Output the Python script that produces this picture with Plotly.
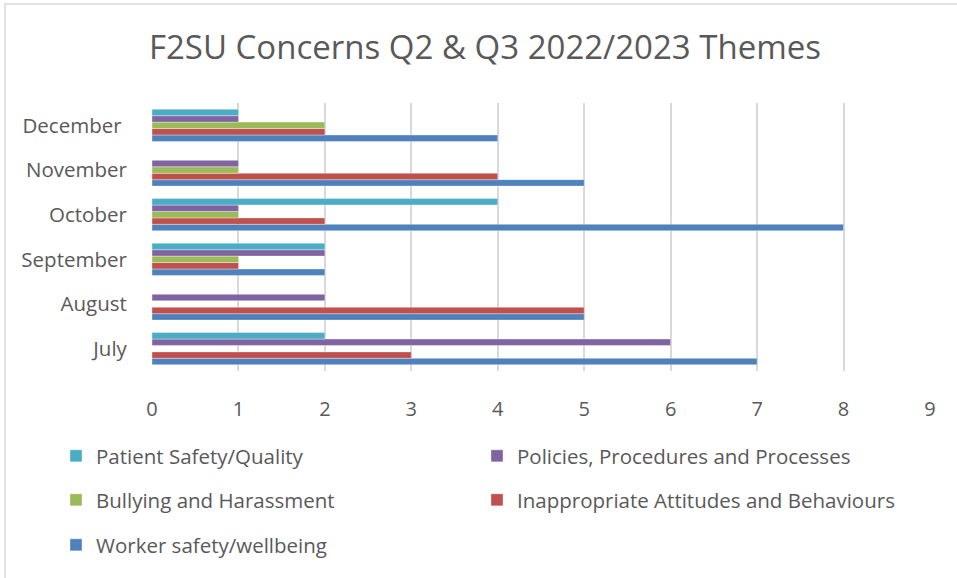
import plotly.graph_objects as go

months = ["July", "August", "September", "October", "November", "December "]
series_names = [
    "Worker safety/wellbeing",
    "Inappropriate Attitudes and Behaviours",
    "Bullying and Harassment",
    "Policies, Procedures and Processes",
    "Patient Safety/Quality",
]
worker = [7, 5, 2, 8, 5, 4]
inappropriate = [3, 5, 1, 2, 4, 2]
bullying = [0, 0, 1, 1, 1, 2]
policies = [6, 2, 2, 1, 1, 1]
patient = [2, 0, 2, 4, 0, 1]
x_ticks = [0, 1, 2, 3, 4, 5, 6, 7, 8, 9]

colors = ["#4F81BD", "#C0504D", "#9BBB59", "#8064A2", "#4BACC6"]
values = [worker, inappropriate, bullying, policies, patient]
legend_ids = ["legend3", "legend2", "legend2", "legend", "legend"]

W, H = 957, 578
L, R, T, B = 152, 27, 103, 207
PW, PH = W - L - R, H - T - B
FONT = "Open Sans"
TXT = "#595959"

fig = go.Figure()
for name, vals, col, lg in zip(series_names, values, colors, legend_ids):
    fig.add_trace(go.Bar(
        y=months, x=vals, name=name, orientation="h",
        marker=dict(color=col, line=dict(color="rgba(255,255,255,0.6)", width=0.6)),
        legend=lg,
    ))

def leg(ypx):
    return dict(
        orientation="h", xref="paper", yref="paper",
        x=(56 - L) / PW, xanchor="left", y=(H - B - ypx) / PH, yanchor="middle",
        entrywidth=376, entrywidthmode="pixels", traceorder="reversed",
        font=dict(family=FONT, size=20.5, color=TXT),
        bgcolor="rgba(0,0,0,0)",
    )

fig.update_layout(
    width=W, height=H,
    paper_bgcolor="white", plot_bgcolor="white",
    margin=dict(l=L, r=R, t=T, b=B),
    barmode="group", bargap=0.28, bargroupgap=0,
    title=dict(text="F2SU Concerns Q2 & Q3 2022/2023 Themes",
               x=485 / W, xanchor="center", y=1 - 47 / H, yanchor="middle",
               font=dict(family=FONT, size=33, color=TXT)),
    font=dict(family=FONT, color=TXT),
    legend=leg(456), legend2=leg(500), legend3=leg(545),
    showlegend=True,
    xaxis=dict(range=[0, 9], tickvals=x_ticks, showgrid=True, gridcolor="#d9d9d9",
               gridwidth=2, zeroline=False, showline=False,
               ticks="outside", ticklen=20, tickcolor="rgba(0,0,0,0)",
               tickfont=dict(family=FONT, size=20, color=TXT)),
    yaxis=dict(showgrid=False, zeroline=False, showline=False,
               ticks="outside", ticklen=20, tickcolor="rgba(0,0,0,0)",
               tickfont=dict(family=FONT, size=20.5, color=TXT)),
    shapes=[dict(type="rect", xref="paper", yref="paper",
                 x0=(5 - L) / PW, x1=1.3, y0=-3, y1=(H - B - 4) / PH,
                 line=dict(color="#d9d9d9", width=1.5), fillcolor="rgba(0,0,0,0)",
                 layer="below")],
)

fig.write_html("out.html", config={"displayModeBar": False},
               post_script="document.body.style.margin='0';")
